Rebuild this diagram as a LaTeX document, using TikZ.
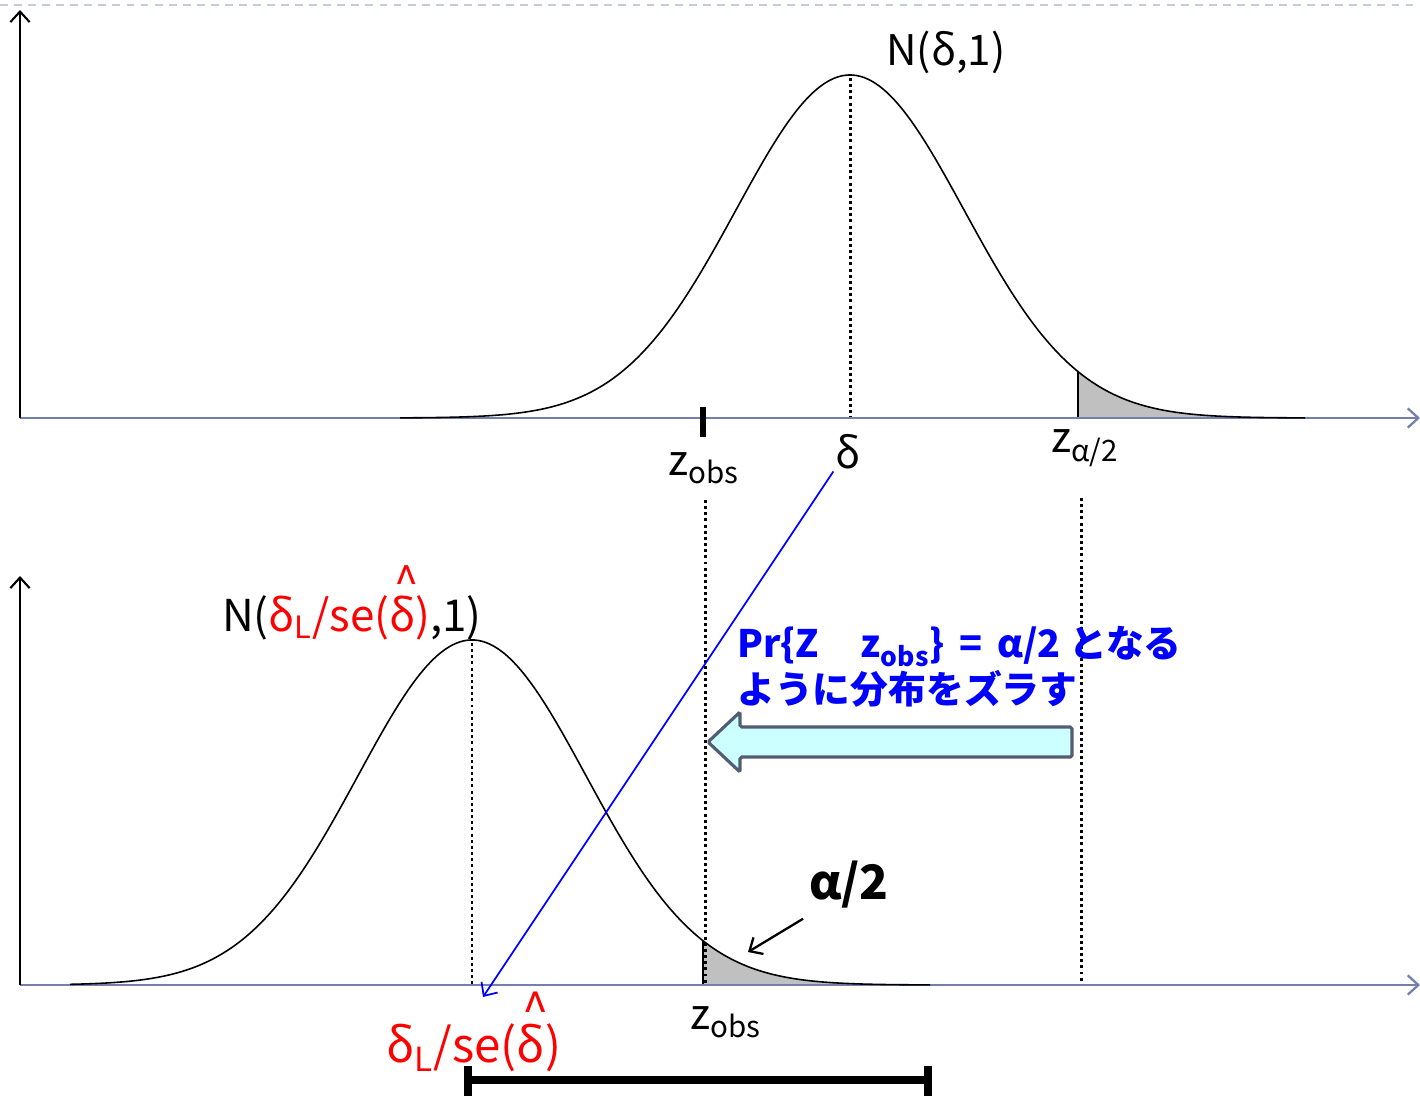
\documentclass[tikz,border=0pt]{standalone}
\usepackage{fontspec}
\setmainfont{Noto Sans CJK JP}
\usetikzlibrary{arrows.meta}
\definecolor{axisblue}{HTML}{7480AC}
\definecolor{framegray}{HTML}{C2CCDA}
\definecolor{shiftcyan}{HTML}{CCFFFF}
\definecolor{shiftedge}{HTML}{525C72}
\definecolor{tailgray}{HTML}{C0C0C0}
\newcommand{\sz}[1]{\fontsize{#1}{#1}\selectfont}
\newcommand{\dhat}{\makebox[0pt][l]{\raisebox{0.74em}{\kern0.12em\textasciicircum}}δ}
\newcommand{\dlow}{δ\textsubscript{L}}

\begin{document}
\begin{tikzpicture}[x=0.02cm, y=-0.02cm, >={Straight Barb[length=6pt,width=11pt]}]
  \tikzset{
    yaxis/.style={->, line width=1.2pt},
    xaxis/.style={->, axisblue, line width=1.3pt},
    bell/.style={line width=0.9pt, smooth},
    guide/.style={line width=1.7pt, dash pattern=on 1.7pt off 1.8pt},
    lbl/.style={inner sep=1pt, font=\sz{24}},
  }
  \useasboundingbox (0,0) rectangle (1420,1096);
  \draw[framegray, line width=1.3pt, dash pattern=on 4.5pt off 3.5pt] (0,5) -- (1420,5);

  % upper plot
  \fill[tailgray] (1078,418) -- plot[domain=1078:1305, samples=40] (\x,{418-343*exp(-0.5*((\x-850)/114)^2)}) -- (1305,418) -- cycle;
  \draw[line width=0.6pt] (1078,418) -- (1078,{418-343*exp(-0.5*((1078-850)/114)^2)});
  \draw[guide] (850,78) -- (850,418);
  \draw[xaxis] (20,418) -- (1420,418);
  \draw[yaxis] (20,418) -- (20,10);
  \draw[bell] plot[domain=400:1305, samples=120] (\x,{418-343*exp(-0.5*((\x-850)/114)^2)});
  \draw[line width=3pt] (703,407) -- (703,437);
  \node[lbl] (topN) at (946,52) {N(δ,1)};
  \node[lbl] (zobsA) at (704,468) {z\textsubscript{obs}};
  \node[lbl] (dlt) at (848,452) {δ};
  \node[lbl] (zhalf) at (1085,448) {z\textsubscript{α/2}};

  % lower plot
  \fill[tailgray] (703,985) -- plot[domain=703:930, samples=40] (\x,{985-345*exp(-0.5*((\x-472)/114)^2)}) -- (930,985) -- cycle;
  \draw[line width=0.8pt] (703,985) -- (703,{985-345*exp(-0.5*((703-472)/114)^2)});
  \draw[guide] (472,643) -- (472,985);
  \draw[guide] (705,500) -- (705,985);
  \draw[guide] (1081,498) -- (1081,985);
  \draw[xaxis] (20,985) -- (1420,985);
  \draw[yaxis] (20,985) -- (20,576);
  \draw[bell] plot[domain=70:930, samples=120] (\x,{985-345*exp(-0.5*((\x-472)/114)^2)});
  \node[lbl, font=\sz{25}] (lowN) at (352,603) {N(\textcolor{red}{\dlow/se(\dhat)},1)};
  \node[lbl] (zobsB) at (726,1022) {z\textsubscript{obs}};
  \node[lbl, red, font=\sz{27}] (dlL) at (474,1032) {\dlow/se(\dhat)};
  \node[lbl, font=\sz{27}\bfseries] (half) at (849,885) {α/2};
  \coordinate (tailTip) at (748,952);
  \draw[->, line width=1.3pt] (half.south west) ++(-4,8) -- (tailTip);

  % shift of the distribution
  \node[anchor=north west, inner sep=0pt, align=left, text=blue, font=\sz{21.5}\bfseries] (shiftTxt) at (737,626)
    {Pr\{Z\hspace{1.1em}z\textsubscript{obs}\} \,=\, α/2 となる\\[1pt]ように分布をズラす};
  \draw[shiftedge, fill=shiftcyan, line width=1.8pt, rounded corners=1pt]
    (708,742) -- (740,712) -- (740,727) -- (1072,727) -- (1072,757) -- (740,757) -- (740,772) -- cycle;
  \coordinate (shiftEnd) at (483,997);
  \draw[->, blue, line width=1pt] (dlt.south west) -- (shiftEnd);

  % interval
  \draw[line width=4.5pt] (468,1080) -- (928,1080);
  \draw[line width=4.5pt] (468,1066) -- (468,1096);
  \draw[line width=4.5pt] (928,1066) -- (928,1096);
\end{tikzpicture}
\end{document}
